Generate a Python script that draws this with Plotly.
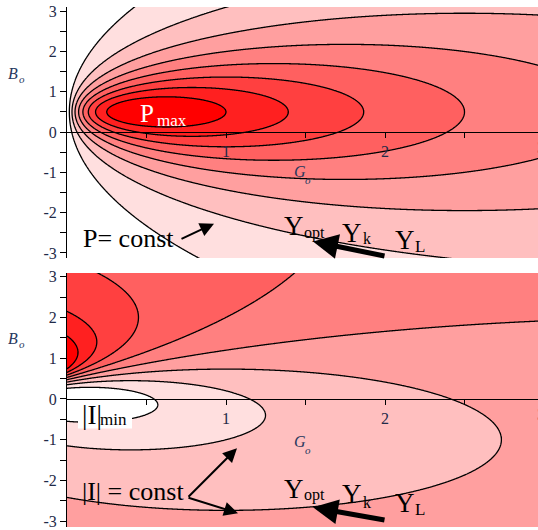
import numpy as np
import plotly.graph_objects as go

# ---------------- data ----------------
# normalized source admittance Y_s = G_s + j*B_s
SOURCE_G = 0.5
SOURCE_B = -0.5

# 8 evenly spaced contour levels (Maple default)
P_LEVELS = dict(start=0.5 / 9, end=4.0 / 9, size=0.5 / 9)      # delivered power P
I_LEVELS = dict(start=2.0 / 9, end=16.0 / 9, size=2.0 / 9)     # load current |I|^2

G_TICKS = [0.5, 1, 1.5, 2, 2.5]
G_TICK_LABELS = ["", "1", "", "2", ""]
B_TICKS = [-3, -2.5, -2, -1.5, -1, -0.5, 0, 0.5, 1, 1.5, 2, 2.5, 3]
B_TICK_LABELS = ["-3", "", "-2", "", "-1", "", "0", "", "1", "", "2", "", "3"]

BAND_COLORS = [[0.0, "#ffffff"], [1.0, "#ff0000"]]

# ---------------- fields ----------------
G = np.linspace(0.0, 3.0, 601)
B = np.linspace(-3.3, 3.3, 661)
GG, BB = np.meshgrid(G, B)
den = (GG + SOURCE_G) ** 2 + (BB + SOURCE_B) ** 2
P_field = GG / den
I_field = (GG ** 2 + BB ** 2) / den

W, H = 538, 530


def px(x):
    return x / W


def py(y):
    return 1 - y / H


common = dict(colorscale=BAND_COLORS, showscale=False, hoverinfo="skip",
              autocontour=False,
              line=dict(color="black", width=1.3, smoothing=1))

fig = go.Figure()
fig.add_trace(go.Contour(x=G, y=B, z=P_field,
                         contours=dict(coloring="fill", **P_LEVELS),
                         xaxis="x", yaxis="y", **common))
fig.add_trace(go.Contour(x=G, y=B, z=I_field,
                         contours=dict(coloring="fill", **I_LEVELS),
                         xaxis="x2", yaxis="y2", **common))

tick_font = dict(family="Liberation Serif", size=16, color="#1f2a48")
X0 = 67 / W
X_MAX = (W - 67) / 159.0

xcommon = dict(range=[0, X_MAX], domain=[X0, 1], showline=True, linecolor="black",
               linewidth=1, ticks="outside", ticklen=5, tickcolor="black",
               tickvals=G_TICKS, ticktext=G_TICK_LABELS, showgrid=False,
               zeroline=False, tickfont=tick_font, anchor="free", fixedrange=True)
ycommon = dict(showline=True, linecolor="black", linewidth=1, ticks="outside",
               ticklen=6, tickcolor="black", tickvals=B_TICKS, ticktext=B_TICK_LABELS,
               showgrid=False, zeroline=False, tickfont=tick_font, fixedrange=True)

top_y0, top_y1, top_zero = 257, 2, 129
bot_y0, bot_y1, bot_zero = 530, 272, 400
top_scale = 40.9
bot_scale = 41.4

fig.update_layout(
    width=W, height=H, margin=dict(l=0, r=0, t=0, b=0),
    paper_bgcolor="white", plot_bgcolor="white", showlegend=False,
    xaxis=dict(position=py(top_zero), **xcommon),
    yaxis=dict(domain=[py(top_y0), py(top_y1)], anchor="x",
               range=[(top_zero - top_y0) / top_scale, (top_zero - top_y1) / top_scale],
               **ycommon),
    xaxis2=dict(position=py(bot_zero), **xcommon),
    yaxis2=dict(domain=[py(bot_y0), py(bot_y1)], anchor="x2",
                range=[(bot_zero - bot_y0) / bot_scale, (bot_zero - bot_y1) / bot_scale],
                **ycommon),
)

ann = []


def text(t, x, y, size, color="black", xanchor="center", italic=False):
    if italic:
        t = "<i>" + t + "</i>"
    ann.append(dict(text=t, x=px(x), y=py(y), xref="paper", yref="paper",
                    xanchor=xanchor, yanchor="middle", showarrow=False,
                    font=dict(family="Liberation Serif", size=size, color=color)))


def arrow(x_tail, y_tail, x_head, y_head, width, size):
    ann.append(dict(text="", x=px(x_head), y=py(y_head), xref="paper", yref="paper",
                    ax=x_tail - x_head, ay=y_tail - y_head, axref="pixel", ayref="pixel",
                    showarrow=True, arrowhead=2, arrowwidth=width, arrowsize=size,
                    arrowcolor="black", standoff=0, startstandoff=0))


lab = "#28385e"
# axis labels
text("B", 13, 70, 16, lab, italic=True)
text("o", 22, 75, 11, lab, italic=True)
text("G", 300, 169, 16, lab, italic=True)
text("o", 308, 178, 11, lab, italic=True)
text("B", 13, 339, 16, lab, italic=True)
text("o", 22, 344, 11, lab, italic=True)
text("G", 300, 443, 16, lab, italic=True)
text("o", 308, 452, 11, lab, italic=True)
# partially visible "3" tick labels at the right edge
text("3", 541, 145, 16, "#1f2a48")
text("3", 541, 416, 16, "#1f2a48")

# top panel texts
text("P", 147, 110, 25, "white")
text("max", 155, 117, 17, "white", xanchor="left")
text("P= const", 81, 237, 26, xanchor="left")
arrow(180, 238, 214, 222, 2, 1.4)
text("Y", 294, 224, 27)
text("opt", 302, 232, 16, xanchor="left")
text("Y", 352, 231, 27)
text("k", 361, 237, 16, xanchor="left")
text("Y", 405, 239, 27)
text("L", 413, 245, 17, xanchor="left")
arrow(386, 255, 313, 240, 5, 1.0)

# bottom panel texts
fig.add_shape(type="rect", xref="paper", yref="paper", x0=px(78), x1=px(132),
              y0=py(430), y1=py(402), fillcolor="white", line=dict(width=0))
text("|I|", 80, 416, 27, xanchor="left")
text("min", 98, 421, 17, xanchor="left")
text("|I| = const", 80, 494, 26, xanchor="left")
arrow(187, 500, 237, 450, 2, 1.4)
arrow(187, 500, 238, 516, 2, 1.4)
text("Y", 294, 491, 27)
text("opt", 302, 498, 16, xanchor="left")
text("Y", 352, 497, 27)
text("k", 361, 505, 16, xanchor="left")
text("Y", 405, 506, 27)
text("L", 413, 512, 17, xanchor="left")
arrow(386, 523, 313, 510, 5, 1.0)

fig.update_layout(annotations=ann)
fig.write_html("out.html", config={"displayModeBar": False},
               post_script="document.body.style.margin='0';document.body.style.padding='0';")
